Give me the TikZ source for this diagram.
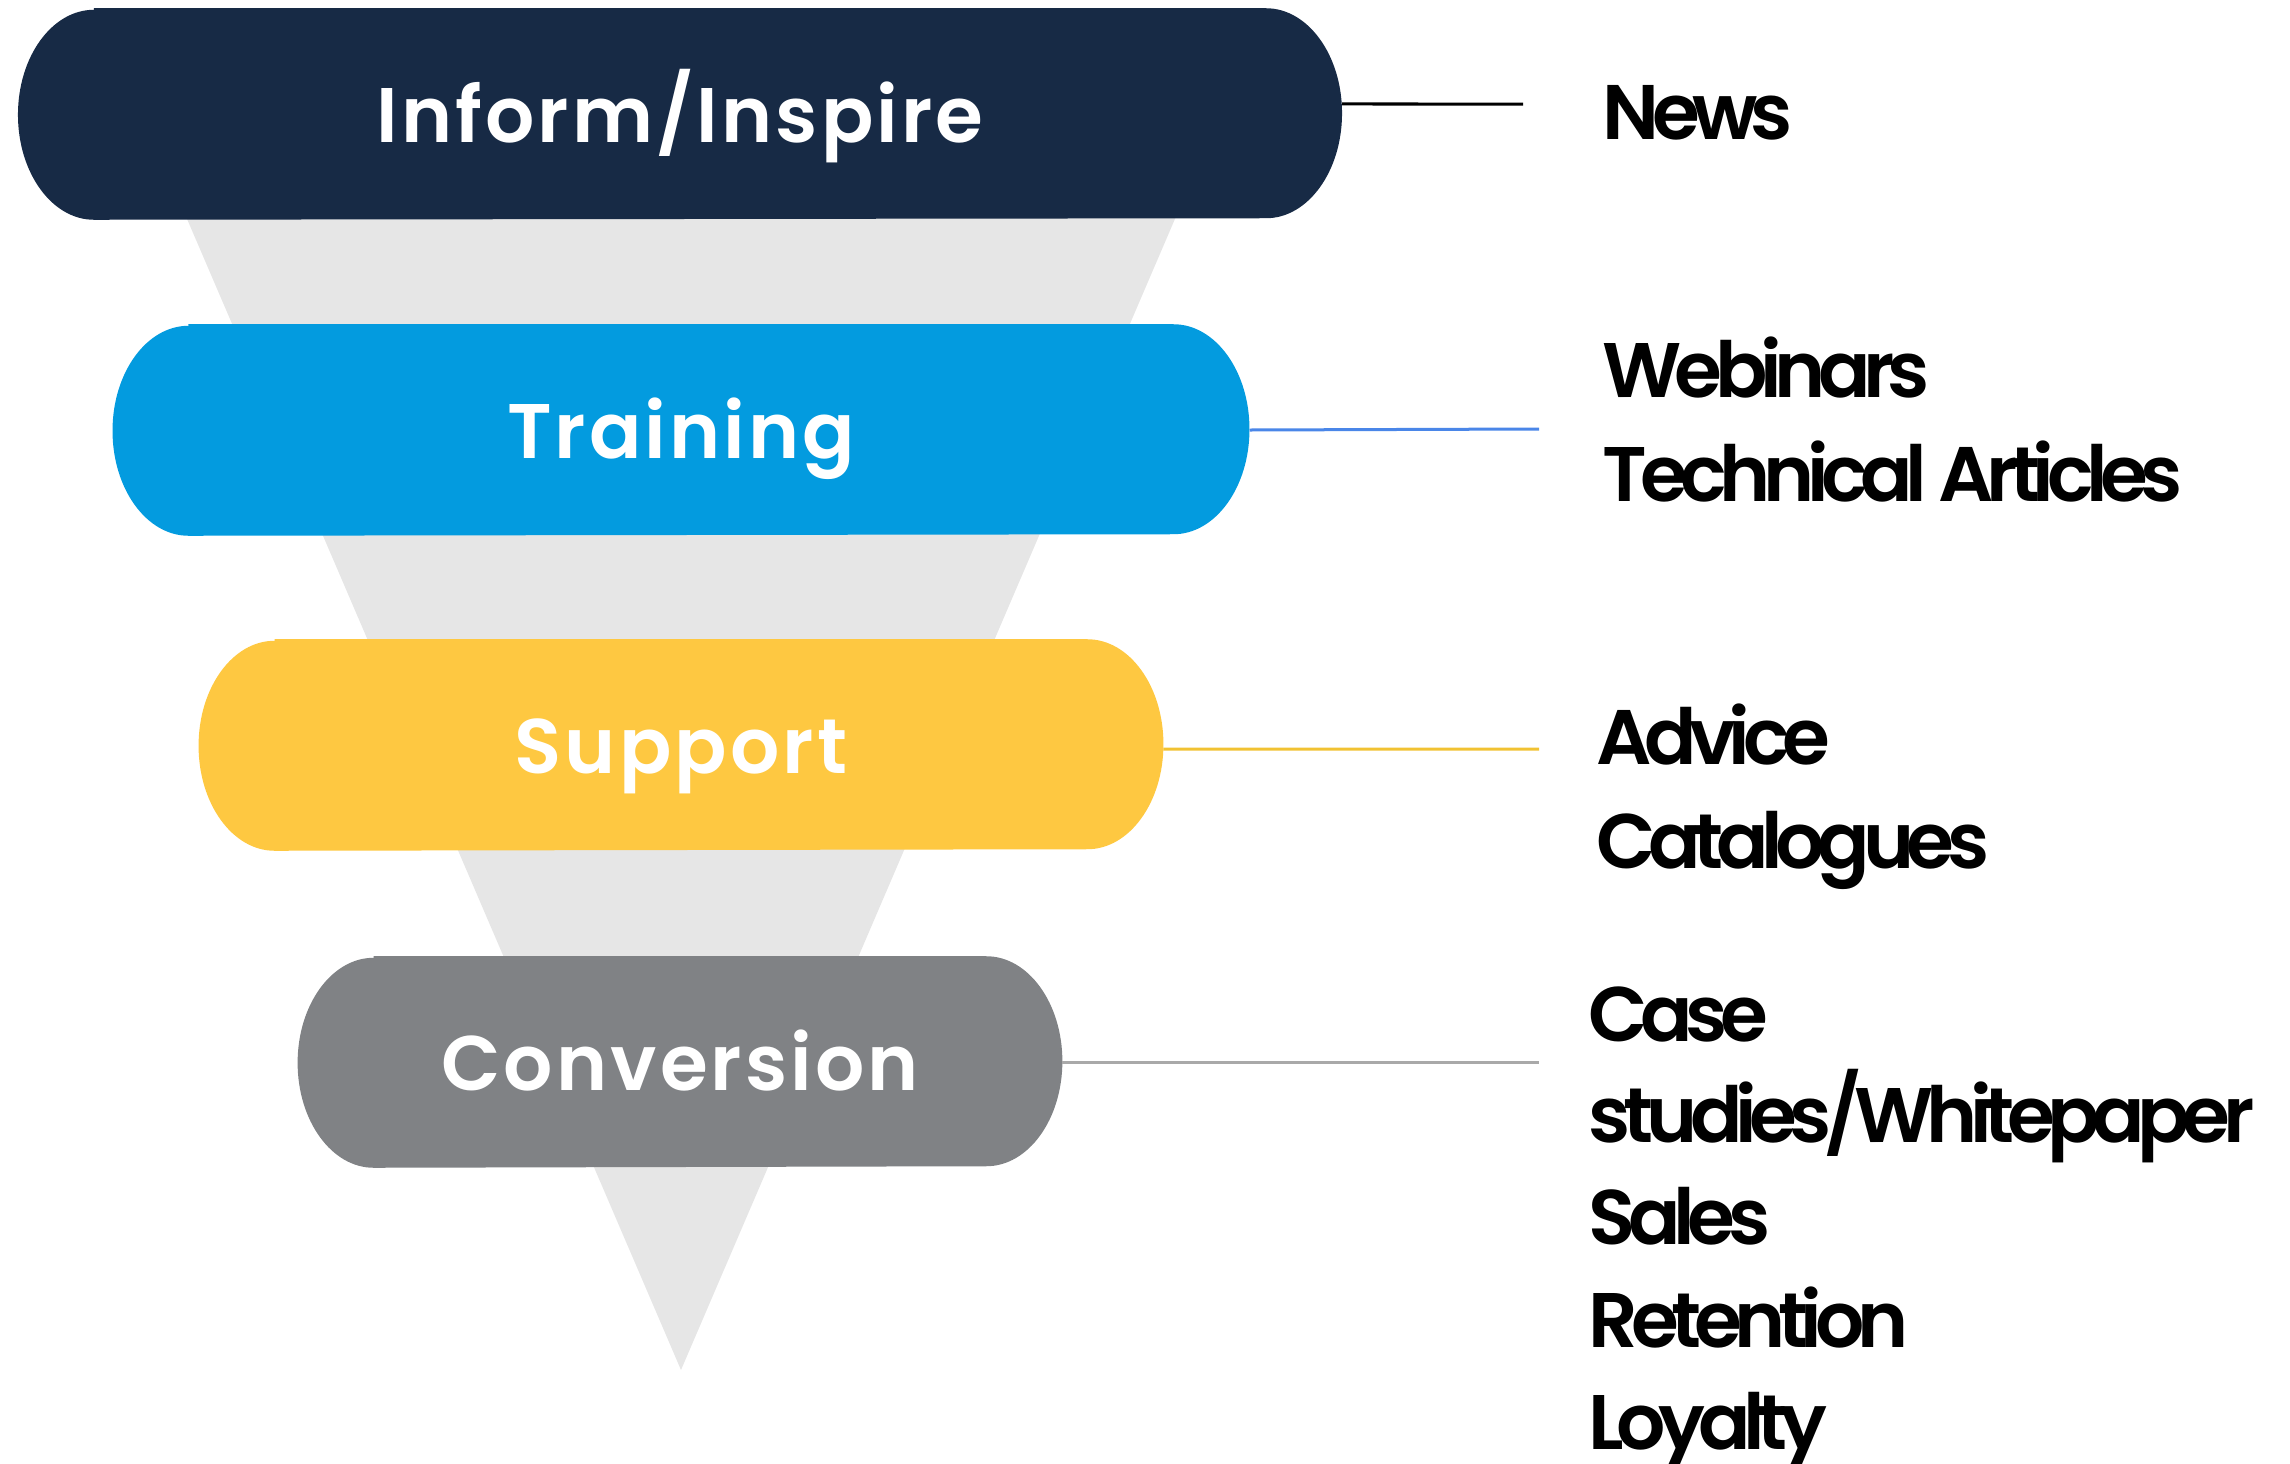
\documentclass[tikz,border=0pt]{standalone}
\usepackage{fontspec}
\setmainfont{Poppins}
\newfontfamily\titlefont{Poppins SemiBold}[LetterSpace=4]
\newfontfamily\itemfont{Poppins SemiBold}[LetterSpace=-9.5]
\usetikzlibrary{backgrounds}

\definecolor{navy}{HTML}{172A45}
\definecolor{trainblue}{HTML}{039BDF}
\definecolor{supyellow}{HTML}{FEC841}
\definecolor{convgray}{HTML}{808285}
\definecolor{funnelgray}{HTML}{E6E6E6}
\definecolor{lineblue}{HTML}{4A86E8}
\definecolor{lineyellow}{HTML}{F1C232}
\definecolor{linegray}{HTML}{A9A9A9}

% band with elliptic ends, drawn behind its node
\newcommand{\capsule}[2]{%
  \fill[#2] (#1.north west) ++(76,0) -- ([xshift=-0.76cm]#1.north east)
    arc[start angle=90,end angle=-90,x radius=76,y radius=105]
    -- ([xshift=0.76cm]#1.south west)
    arc[start angle=270,end angle=90,x radius=76,y radius=105] -- cycle;}

\begin{document}
\begin{tikzpicture}[x=0.01cm,y=0.01cm,
  band/.style={minimum height=2.1cm, inner sep=0, text=white,
    text height=0.7cm, text depth=0.14cm,
    font=\titlefont\fontsize{22}{28}\selectfont},
  item/.style={anchor=base west, inner sep=0,
    font=\itemfont\fontsize{22}{28}\selectfont},
  link/.style={line width=0.03cm}]
\useasboundingbox (0,0) rectangle (2290,-1463);

\node[band, minimum width=13.22cm] (inform) at (680,-114) {Inform/Inspire};
\node[band, minimum width=11.35cm] (training) at (681,-430) {Training};
\node[band, minimum width=9.63cm] (support) at (681,-745) {Support};
\node[band, minimum width=7.63cm] (conversion) at (680,-1062) {Conversion};

\begin{scope}[on background layer]
  \fill[funnelgray] (142,-114) -- (1220,-114) -- (681,-1370) -- cycle;
  \capsule{inform}{navy}
  \capsule{training}{trainblue}
  \capsule{support}{supyellow}
  \capsule{conversion}{convgray}
\end{scope}

% right hand column
\node[item] (news) at (1602,-139) {News};
\node[item] (webinars) at (1602,-397) {Webinars};
\node[item] (articles) at (1602,-501) {Technical Articles};
\node[item] (advice) at (1596,-764) {Advice};
\node[item] (catalogues) at (1596,-868) {Catalogues};
\node[item] (case) at (1588,-1041) {Case};
\node[item] (studies) at (1588,-1142) {studies/Whitepaper};
\node[item] (sales) at (1588,-1244) {Sales};
\node[item] (retention) at (1588,-1347) {Retention};
\node[item] (loyalty) at (1588,-1449) {Loyalty};

\coordinate (informend) at (1523,-104);
\coordinate (trainingend) at (1539,-429);
\coordinate (supportend) at (1539,-749);
\coordinate (conversionend) at (1539,-1062);

\draw[link, black] ([yshift=0.1cm]inform.east) -- (informend);
\draw[link, lineblue] (training.east) -- (trainingend);
\draw[link, lineyellow] ([yshift=-0.04cm]support.east) -- (supportend);
\draw[link, linegray] (conversion.east) -- (conversionend);
\end{tikzpicture}
\end{document}
